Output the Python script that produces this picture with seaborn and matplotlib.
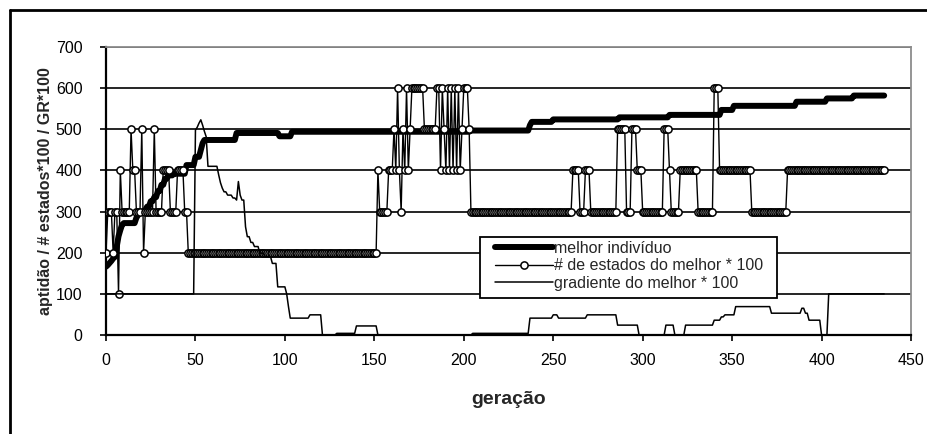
import numpy as np
import pandas as pd
import seaborn as sns
import matplotlib.pyplot as plt
from matplotlib.lines import Line2D
from matplotlib.patches import Rectangle

# generations 0..435, series stored as run lengths (value, how many generations)
melhor_vals = [166, 170, 175, 180, 186, 190, 215, 240, 255, 268,
               272, 285, 292, 300, 304, 312, 325, 335, 350, 365, 380, 388, 392,
               413, 433, 450, 466, 474, 491, 483, 494, 497, 510, 518, 524, 529,
               535, 547, 557, 567, 575, 582]
melhor_runs = [1, 1, 1, 1, 1, 1, 1, 1, 1, 1,
               7, 1, 1, 3, 1, 2, 2, 2, 2, 2, 2, 3, 7,
               5, 3, 1, 1, 18, 24, 7, 100, 33, 1, 12, 37, 28,
               29, 7, 35, 17, 15, 18]

estados_vals = [200, 300, 200, 300, 100, 400, 300, 500, 400, 300, 500, 200,
                300, 500, 300, 400, 300, 400, 300, 200, 400, 300, 400, 500,
                400, 600, 400, 300, 500, 400, 600, 400, 500, 600, 500, 600,
                400, 600, 500, 400, 600, 400, 600, 400, 600, 400, 600, 400,
                500, 600, 500, 300, 400, 300, 400, 300, 500, 300, 500, 400,
                300, 500, 400, 300, 400, 300, 600, 400, 300, 400]
estados_runs = [1, 3, 1, 2, 1, 1, 5, 1, 2, 3, 1, 1,
                5, 1, 4, 4, 4, 4, 2, 106, 1, 5, 3, 1,
                1, 1, 1, 1, 1, 1, 1, 1, 1, 7, 7, 2,
                1, 1, 1, 1, 1, 1, 1, 1, 1, 1, 1, 1,
                1, 3, 1, 57, 4, 3, 3, 15, 5, 3, 3, 3,
                12, 3, 1, 5, 10, 9, 3, 18, 20, 55]

gradiente_vals = [100, 498, 505, 515, 523, 510, 495, 482, 410, 389, 370, 357,
                  348, 340, 333, 328, 373, 340, 328, 263, 239, 225, 215, 199,
                  190, 174, 117, 100, 69, 41, 49, 0, 4, 22, 0, 4,
                  41, 49, 41, 49, 24, 0, 24, 0, 24, 36, 44, 49,
                  69, 53, 65, 53, 36, 0, 100]
gradiente_runs = [50, 1, 1, 1, 1, 1, 1, 1, 6, 1, 1, 1,
                  2, 3, 2, 1, 1, 1, 2, 1, 2, 2, 3, 3,
                  4, 3, 5, 1, 1, 11, 7, 8, 11, 12, 53, 32,
                  13, 3, 16, 17, 12, 15, 5, 6, 16, 4, 2, 6,
                  20, 17, 2, 2, 7, 4, 32]

labels = ['melhor indivíduo', '# de estados do melhor * 100',
          'gradiente do melhor * 100']

W, H = 927, 434
AX_L, AX_R, AX_T, AX_B = 106, 911, 47, 335


def expand(vals, runs):
    return np.repeat(vals, runs)


def build_df():
    melhor = expand(melhor_vals, melhor_runs)
    estados = expand(estados_vals, estados_runs)
    grad = expand(gradiente_vals, gradiente_runs)
    gen = np.arange(len(melhor))
    return pd.DataFrame(dict(gen=gen, melhor=melhor, estados=estados, grad=grad))


def plot(df):
    sns.set_style("white")
    plt.rcParams['font.family'] = ['Liberation Sans', 'DejaVu Sans']

    fig = plt.figure(figsize=(W / 100, H / 100), dpi=100)
    ax = fig.add_axes([AX_L / W, 1 - AX_B / H, (AX_R - AX_L) / W, (AX_B - AX_T) / H])

    sns.lineplot(data=df, x='gen', y='melhor', ax=ax, color='black', linewidth=4.3,
                 estimator=None, sort=False, label=labels[0], zorder=3)
    sns.lineplot(data=df, x='gen', y='estados', ax=ax, color='black', linewidth=1.0,
                 marker='o', markersize=5.2, markerfacecolor='white',
                 markeredgecolor='black', markeredgewidth=1.1,
                 estimator=None, sort=False, label=labels[1], zorder=4)
    sns.lineplot(data=df, x='gen', y='grad', ax=ax, color='black', linewidth=1.1,
                 estimator=None, sort=False, label=labels[2], zorder=5)

    ax.set_xlim(0, 450)
    ax.set_ylim(0, 700)
    ax.set_xticks(np.arange(0, 451, 50))
    ax.set_yticks(np.arange(0, 701, 100))
    ax.yaxis.grid(True, color='black', linewidth=1.2)
    ax.xaxis.grid(False)
    ax.set_axisbelow(True)

    for s in ['left', 'bottom']:
        ax.spines[s].set_color('black')
        ax.spines[s].set_linewidth(1.6)
    for s in ['top', 'right']:
        ax.spines[s].set_color('#8c8c8c')
        ax.spines[s].set_linewidth(1.3)

    ax.tick_params(axis='both', direction='out', length=4, width=1.2,
                   colors='black', labelsize=11.5, bottom=True, left=True)
    ax.tick_params(axis='x', pad=9)
    ax.tick_params(axis='y', pad=13)

    ax.set_xlabel('geração', fontsize=14, fontweight='bold', va='top')
    ax.xaxis.set_label_coords(0.5, -0.195)
    ax.set_ylabel('aptidão / # estados*100 / GR*100', fontsize=11.5, fontweight='bold')
    ax.yaxis.set_label_coords(-0.066, 0.5)

    # legend box
    x0 = (480 - AX_L) / (AX_R - AX_L)
    x1 = (777 - AX_L) / (AX_R - AX_L)
    y0 = (AX_B - 298) / (AX_B - AX_T)
    y1 = (AX_B - 237) / (AX_B - AX_T)
    ax.add_patch(Rectangle((x0, y0), x1 - x0, y1 - y0, transform=ax.transAxes,
                           facecolor='white', edgecolor='black', linewidth=1.3,
                           zorder=6))
    handles, labs = ax.get_legend_handles_labels()
    leg = ax.legend(handles, labs, loc='upper left',
                    bbox_to_anchor=((495 - AX_L) / (AX_R - AX_L), (AX_B - 241) / (AX_B - AX_T)),
                    frameon=False, borderpad=0, borderaxespad=0, handlelength=3.6,
                    handletextpad=0.1, labelspacing=0.15, fontsize=11.5)
    leg.set_zorder(7)

    # outer frame (top and left edges visible)
    fig.add_artist(Line2D([10 / W, 1.0], [1 - 10 / H, 1 - 10 / H],
                          transform=fig.transFigure, color='black', linewidth=2))
    fig.add_artist(Line2D([10 / W, 10 / W], [0, 1 - 10 / H],
                          transform=fig.transFigure, color='black', linewidth=2))

    fig.savefig('out.png', dpi=100)
    plt.close('all')


if __name__ == "__main__":
    df = build_df()
    plot(df)
